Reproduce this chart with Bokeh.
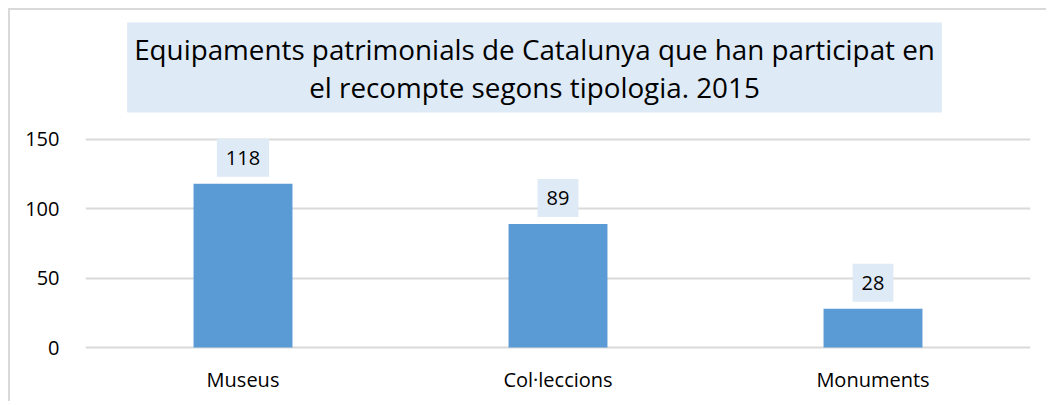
from bokeh.plotting import figure
from bokeh.models import ColumnDataSource, Label, FixedTicker, FactorRange, Range1d
from bokeh.core.properties import value
from bokeh.embed import file_html
from bokeh.resources import INLINE

categories = ["Museus", "Col·leccions", "Monuments"]
counts = [118, 89, 28]
labels = [str(v) for v in counts]
y_ticks = [0, 50, 100, 150]
title_text = "Equipaments patrimonials de Catalunya que han participat en\nel recompte segons tipologia. 2015"

FONT = "Open Sans"
BAR = "#5B9BD5"
LIGHT = "#DEEAF6"
GRID = "#D9D9D9"

src = ColumnDataSource(dict(cat=categories, val=counts, lab=labels))

p = figure(width=1038, height=393, x_range=FactorRange(*categories), y_range=Range1d(-1.44, 235.8),
           output_backend="svg", toolbar_location=None,
           min_border_left=75, min_border_right=18, min_border_top=10, min_border_bottom=54)
p.styles = {"margin-left": "10px", "margin-top": "10px", "box-shadow": "-2px -2px 0 0 #D9D9D9"}
p.outline_line_color = None
p.background_fill_color = "white"
p.border_fill_color = "white"

p.vbar(x="cat", top="val", width=0.314, source=src, fill_color=BAR, line_color=None)

p.text(x="cat", y="val", text="lab", source=src, text_align="center", text_baseline="bottom",
       y_offset=-7, text_font=value(FONT), text_font_size="20px", text_color="black",
       background_fill_color=LIGHT, padding=dict(left=9, right=9, top=12, bottom=12))

p.xgrid.grid_line_color = None
p.ygrid.grid_line_color = GRID
p.ygrid.grid_line_width = 2
p.yaxis.ticker = FixedTicker(ticks=y_ticks)

for ax in (p.xaxis[0], p.yaxis[0]):
    ax.axis_line_color = None
    ax.major_tick_line_color = None
    ax.minor_tick_line_color = None
    ax.major_label_text_font = FONT
    ax.major_label_text_font_size = "20px"
    ax.major_label_text_color = "black"
p.yaxis.major_label_standoff = 20
p.xaxis.major_label_standoff = 10

p.add_layout(Label(x=449, y=282, x_units="screen", y_units="screen", text=title_text,
                   text_align="center", text_baseline="middle", text_font=FONT,
                   text_font_size="27.8px", text_color="black", text_line_height=1.0,
                   background_fill_color=LIGHT, padding=dict(left=7, right=7, top=7, bottom=7)))

open("out.html", "w").write(file_html(p, INLINE))
